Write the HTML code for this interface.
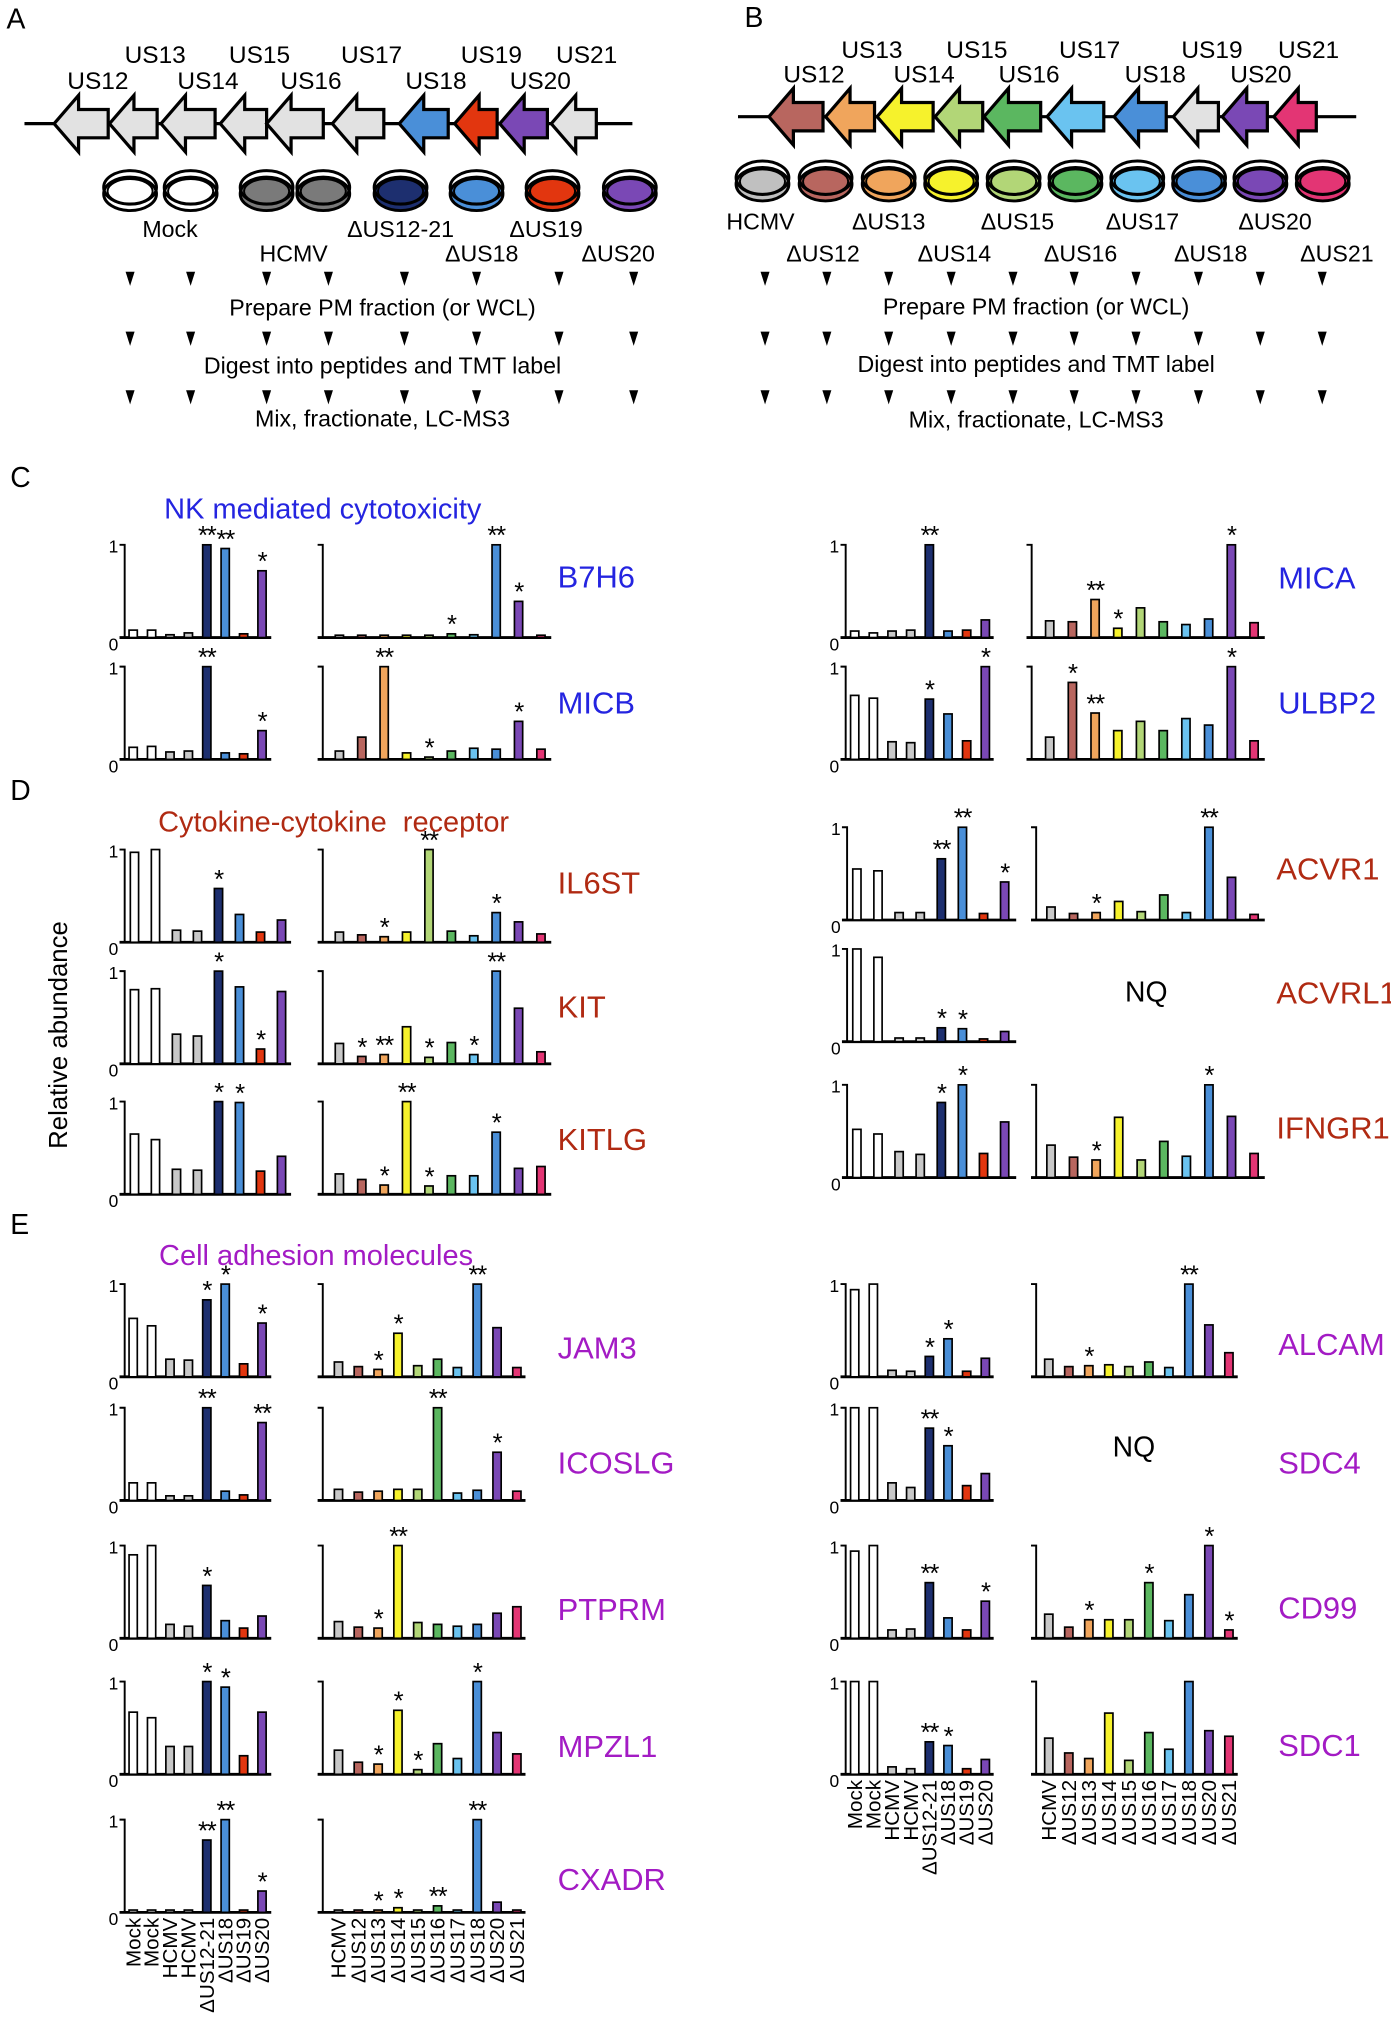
<!DOCTYPE html>
<html><head><meta charset="utf-8"><style>
html,body{margin:0;padding:0;background:#fff;}
svg{display:block;font-family:"Liberation Sans",Arial,sans-serif;}
</style></head><body>
<svg id="s" width="1391" height="2019" viewBox="0 0 1080 1567.6" xmlns="http://www.w3.org/2000/svg">
<rect width="1080" height="1567.6" fill="#fff"/>
<g id="g"></g>
<g font-size="22" fill="#000">
<text x="5" y="22">A</text><text x="578" y="21">B</text>
<text x="8" y="378">C</text><text x="8" y="621">D</text><text x="8" y="958">E</text>
</g>
<g font-size="19" text-anchor="middle">
<text x="76" y="69">US12</text><text x="120.5" y="49">US13</text><text x="161.5" y="69">US14</text><text x="201.5" y="49">US15</text><text x="241.5" y="69">US16</text><text x="288.5" y="49">US17</text><text x="338.5" y="69">US18</text><text x="381.5" y="49">US19</text><text x="419.5" y="69">US20</text><text x="455.5" y="49">US21</text>
<text x="632" y="64">US12</text><text x="677" y="45">US13</text><text x="717.5" y="64">US14</text><text x="758.5" y="45">US15</text><text x="799" y="64">US16</text><text x="846" y="45">US17</text><text x="897" y="64">US18</text><text x="941" y="45">US19</text><text x="979" y="64">US20</text><text x="1016" y="45">US21</text>
</g>
<g font-size="18" text-anchor="middle">
<text x="132" y="184">Mock</text><text x="311" y="184">ΔUS12-21</text><text x="424" y="184">ΔUS19</text>
<text x="228" y="203">HCMV</text><text x="374" y="203">ΔUS18</text><text x="480" y="203">ΔUS20</text>
<text x="590.5" y="178">HCMV</text><text x="690" y="178">ΔUS13</text><text x="790" y="178">ΔUS15</text><text x="887" y="178">ΔUS17</text><text x="990" y="178">ΔUS20</text>
<text x="639" y="203">ΔUS12</text><text x="741" y="203">ΔUS14</text><text x="839" y="203">ΔUS16</text><text x="940" y="203">ΔUS18</text><text x="1038" y="203">ΔUS21</text>
<text x="297" y="245">Prepare PM fraction (or WCL)</text>
<text x="297" y="290">Digest into peptides and TMT label</text>
<text x="297" y="331">Mix, fractionate, LC-MS3</text>
<text x="804.5" y="244">Prepare PM fraction (or WCL)</text>
<text x="804.5" y="289">Digest into peptides and TMT label</text>
<text x="804.5" y="332">Mix, fractionate, LC-MS3</text>
</g>
<g font-size="22.5" text-anchor="middle">
<text x="250.6" y="402.5" fill="#2424e0">NK mediated cytotoxicity</text>
<text x="259" y="645.7" fill="#b02a12" xml:space="preserve">Cytokine-cytokine  receptor</text>
<text x="245.4" y="982" fill="#a31bc4">Cell adhesion molecules</text>
</g>
<g font-size="24" fill="#2424e0">
<text x="433" y="456">B7H6</text><text x="433" y="553.8">MICB</text>
<text x="992.5" y="457">MICA</text><text x="992.5" y="554">ULBP2</text>
</g>
<g font-size="24" fill="#b02a12">
<text x="433" y="693.6">IL6ST</text><text x="433" y="789.9">KIT</text><text x="433" y="893">KITLG</text>
<text x="991" y="683">ACVR1</text><text x="991" y="779">ACVRL1</text><text x="991" y="883.8">IFNGR1</text>
</g>
<g font-size="24" fill="#a31bc4">
<text x="433" y="1054.6">JAM3</text><text x="433" y="1144">ICOSLG</text><text x="433" y="1257.8">PTPRM</text><text x="433" y="1364">MPZL1</text><text x="433" y="1467.4">CXADR</text>
<text x="992.5" y="1052">ALCAM</text><text x="992.5" y="1144">SDC4</text><text x="992.5" y="1256.5">CD99</text><text x="992.5" y="1363.4">SDC1</text>
</g>
<g font-size="22" text-anchor="middle">
<text x="890" y="777.7">NQ</text><text x="880.4" y="1131">NQ</text>
</g>
<text transform="translate(52,803.6) rotate(-90)" font-size="20" text-anchor="middle">Relative abundance</text>
<g font-size="16" text-anchor="end">
<text transform="translate(108.9,1489) rotate(-90)">Mock</text>
<text transform="translate(123.2,1489) rotate(-90)">Mock</text>
<text transform="translate(137.5,1489) rotate(-90)">HCMV</text>
<text transform="translate(151.8,1489) rotate(-90)">HCMV</text>
<text transform="translate(166.1,1489) rotate(-90)">ΔUS12-21</text>
<text transform="translate(180.4,1489) rotate(-90)">ΔUS18</text>
<text transform="translate(194.6,1489) rotate(-90)">ΔUS19</text>
<text transform="translate(208.9,1489) rotate(-90)">ΔUS20</text>
<text transform="translate(268.3,1489) rotate(-90)">HCMV</text>
<text transform="translate(283.7,1489) rotate(-90)">ΔUS12</text>
<text transform="translate(299.1,1489) rotate(-90)">ΔUS13</text>
<text transform="translate(314.5,1489) rotate(-90)">ΔUS14</text>
<text transform="translate(329.9,1489) rotate(-90)">ΔUS15</text>
<text transform="translate(345.3,1489) rotate(-90)">ΔUS16</text>
<text transform="translate(360.6,1489) rotate(-90)">ΔUS17</text>
<text transform="translate(376,1489) rotate(-90)">ΔUS18</text>
<text transform="translate(391.4,1489) rotate(-90)">ΔUS20</text>
<text transform="translate(406.8,1489) rotate(-90)">ΔUS21</text>
<text transform="translate(669.1,1382) rotate(-90)">Mock</text>
<text transform="translate(683.6,1382) rotate(-90)">Mock</text>
<text transform="translate(698.1,1382) rotate(-90)">HCMV</text>
<text transform="translate(712.6,1382) rotate(-90)">HCMV</text>
<text transform="translate(727.1,1382) rotate(-90)">ΔUS12-21</text>
<text transform="translate(741.6,1382) rotate(-90)">ΔUS18</text>
<text transform="translate(756,1382) rotate(-90)">ΔUS19</text>
<text transform="translate(770.5,1382) rotate(-90)">ΔUS20</text>
<text transform="translate(819.8,1382) rotate(-90)">HCMV</text>
<text transform="translate(835.3,1382) rotate(-90)">ΔUS12</text>
<text transform="translate(850.9,1382) rotate(-90)">ΔUS13</text>
<text transform="translate(866.4,1382) rotate(-90)">ΔUS14</text>
<text transform="translate(882,1382) rotate(-90)">ΔUS15</text>
<text transform="translate(897.5,1382) rotate(-90)">ΔUS16</text>
<text transform="translate(913,1382) rotate(-90)">ΔUS17</text>
<text transform="translate(928.6,1382) rotate(-90)">ΔUS18</text>
<text transform="translate(944.1,1382) rotate(-90)">ΔUS20</text>
<text transform="translate(959.7,1382) rotate(-90)">ΔUS21</text>
</g>
</svg>
<script>
const NS='http://www.w3.org/2000/svg';const G=document.getElementById('g');
function el(t,a,txt){const e=document.createElementNS(NS,t);for(const k in a)e.setAttribute(k,a[k]);if(txt!=null)e.textContent=txt;G.appendChild(e);return e;}
function arrows(ly,x1,x2,list,cols,hh){
 el('line',{x1:x1,y1:ly,x2:x2,y2:ly,stroke:'#000','stroke-width':2.5});
 list.forEach((p,i)=>{const t=p[0],r=p[1],h=Math.min(t+19,r-8),c=ly;
  el('path',{d:`M${t},${c}L${h},${c-hh}V${c-11}H${r}V${c+11}H${h}V${c+hh}Z`,fill:cols[i],stroke:'#000','stroke-width':2.5,'stroke-linejoin':'miter'});});
}
const ga='#e2e2e2';
arrows(96,19,491,[[42,84],[85,122],[125,167],[171,207],[207,251],[258,298],[310,348],[353,386],[388,425],[428,463]],
 [ga,ga,ga,ga,ga,ga,'#4a8fd8','#e2360f','#7a48b5',ga],22);
arrows(90.6,573,1053,[[597,639],[641,679],[681,724.5],[726,763],[764,808],[813,857],[865,905.5],[911,946],[949,984],[989,1022]],
 ['#b8665f','#f0a55c','#f6f22c','#b2d677','#5bb760','#6ac3f0','#4a8fd8','#e2e2e2','#7a48b5','#e33574'],22);
function dish(cx,cy,col){
 el('ellipse',{cx:cx,cy:cy+3,rx:20.5,ry:13,fill:col,stroke:'#000','stroke-width':2.3});
 el('ellipse',{cx:cx,cy:cy-2,rx:20.5,ry:13,fill:'none',stroke:'#000','stroke-width':2.3});
 el('ellipse',{cx:cx,cy:cy+1,rx:17.5,ry:9.5,fill:col,stroke:'#000','stroke-width':1.5});
}
[[101,'#fff'],[148,'#fff'],[207,'#7a7a7a'],[251,'#7a7a7a'],[311,'#1d2f6f'],[370,'#4a8fd8'],[429,'#e2360f'],[489,'#7a48b5']].forEach(d=>dish(d[0],147.5,d[1]));
[[592,'#c0c0c0'],[641,'#b8665f'],[690,'#f0a55c'],[738.5,'#f6f22c'],[787,'#b2d677'],[835,'#5bb760'],[883,'#6ac3f0'],[931,'#4a8fd8'],[978.6,'#7a48b5'],[1027,'#e33574']].forEach(d=>dish(d[0],140,d[1]));
function tris(xs){[211,257.5,303].forEach(y=>xs.forEach(x=>el('path',{d:`M${x-3.5},${y}H${x+3.5}L${x},${y+11}Z`,fill:'#000'})));}
tris([101,148,207,255,314,370,434,492]);
tris([594,642,690,738.5,786.5,834,882,930.5,978.5,1026.6]);
const LC=['#fff','#fff','#c8c8c8','#c8c8c8','#1d2f6f','#4a8fd8','#e2360f','#7a48b5'];
const RC=['#c8c8c8','#b8665f','#f0a55c','#f6f22c','#b2d677','#5bb760','#6ac3f0','#4a8fd8','#7a48b5','#e33574'];
function chart(T,base,vals,stars,ticks){
 const [ax,x0,dx,end]=T,top=base-72,cols=vals.length==8?LC:RC;
 el('path',{d:`M${ax-4},${top}H${ax}V${base}`,fill:'none',stroke:'#000','stroke-width':1.5});
 el('line',{x1:ax-4,y1:base,x2:end,y2:base,stroke:'#000','stroke-width':2.2});
 if(ticks){el('text',{x:ax-5,y:top+6,'text-anchor':'end','font-size':13.5},'1');el('text',{x:ax-5,y:base+10,'text-anchor':'end','font-size':13.5},'0');}
 vals.forEach((v,i)=>{const cx=x0+dx*i,h=Math.max(v*72,1.8);
  el('rect',{x:cx-3.2,y:base-h,width:6.4,height:h,fill:cols[i],stroke:'#000','stroke-width':1.3});
  if(stars[i])el('text',{x:cx,y:base-h-0.5,'text-anchor':'middle','font-size':20,'letter-spacing':'-1'},stars[i]);});
}
const Lc=[96.8,103.4,14.29,210.6],C2=[250.6,263.5,17.39,428],R1c=[656.6,663.6,14.49,771.5],R2c=[801,815,17.63,982];
const Ld=[96.8,104.4,16.31,226],R1d=[657.7,665.3,16.39,789],R2d=[804.5,816,17.52,982];
const E2=[250.6,262.8,15.39,408],R2e=[804.5,814.3,15.54,961];
chart(Lc,495,[.08,.08,.03,.05,1,.96,.04,.72],{4:'**',5:'**',7:'*'},1);
chart(C2,495,[.02,.02,.02,.02,.02,.04,.03,1,.39,.02],{5:'*',7:'**',8:'*'});
chart(Lc,589.6,[.13,.14,.08,.09,1,.07,.06,.31],{4:'**',7:'*'},1);
chart(C2,589.6,[.09,.24,1,.07,.02,.09,.12,.11,.41,.11],{2:'**',4:'*',8:'*'});
chart(R1c,495,[.07,.05,.07,.08,1,.07,.08,.19],{4:'**'},1);
chart(R2c,495,[.18,.17,.41,.1,.32,.17,.14,.2,1,.16],{2:'**',3:'*',8:'*'});
chart(R1c,589.6,[.69,.66,.19,.18,.65,.49,.2,1],{4:'*',7:'*'},1);
chart(R2c,589.6,[.24,.83,.5,.31,.41,.31,.44,.37,1,.2],{1:'*',2:'**',8:'*'});
chart(Ld,731.6,[.97,1,.13,.12,.58,.3,.11,.24],{4:'*'},1);
chart(C2,731.6,[.11,.08,.06,.11,1,.12,.07,.32,.22,.09],{2:'*',4:'**',7:'*'});
chart(Ld,826,[.8,.81,.32,.3,1,.83,.16,.78],{4:'*',6:'*'},1);
chart(C2,826,[.22,.08,.1,.4,.07,.23,.1,1,.6,.13],{1:'*',2:'**',4:'*',6:'*',7:'**'});
chart(Ld,927.3,[.65,.59,.27,.26,1,.99,.25,.41],{4:'*',5:'*'},1);
chart(C2,927.3,[.22,.16,.1,1,.09,.2,.2,.67,.28,.3],{2:'*',3:'**',4:'*',7:'*'});
chart(R1d,714.3,[.55,.53,.08,.08,.66,1,.07,.41],{4:'**',5:'**',7:'*'},1);
chart(R2d,714.3,[.14,.07,.08,.2,.09,.27,.08,1,.46,.06],{2:'*',7:'**'});
chart(R1d,808.8,[1,.91,.04,.04,.15,.14,.03,.11],{4:'*',5:'*'},1);
chart(R1d,914.3,[.52,.47,.28,.25,.81,1,.26,.6],{4:'*',5:'*'},1);
chart(R2d,914.3,[.35,.22,.19,.65,.19,.39,.23,1,.66,.26],{2:'*',7:'*'});
chart(Lc,1069,[.63,.55,.19,.18,.83,1,.14,.58],{4:'*',5:'*',7:'*'},1);
chart(E2,1069,[.16,.11,.08,.47,.12,.19,.1,1,.53,.1],{2:'*',3:'*',7:'**'});
chart(Lc,1165,[.19,.19,.05,.05,1,.1,.06,.84],{4:'**',7:'**'},1);
chart(E2,1165,[.12,.09,.1,.12,.12,1,.08,.11,.52,.1],{5:'**',8:'*'});
chart(Lc,1272,[.9,1,.15,.13,.57,.19,.11,.24],{4:'*'},1);
chart(E2,1272,[.18,.12,.11,1,.17,.15,.13,.15,.27,.34],{2:'*',3:'**'});
chart(Lc,1377.6,[.67,.61,.3,.3,1,.94,.2,.67],{4:'*',5:'*'},1);
chart(E2,1377.6,[.26,.13,.11,.69,.05,.33,.17,1,.45,.22],{2:'*',3:'*',4:'*',7:'*'});
chart(Lc,1484.8,[.01,.01,.01,.01,.78,1,.02,.23],{4:'**',5:'**',7:'*'},1);
chart(E2,1484.8,[.01,.01,.01,.05,.01,.07,.02,1,.11,.01],{2:'*',3:'*',5:'**',7:'**'});
chart(R1c,1069,[.94,1,.07,.06,.22,.41,.06,.2],{4:'*',5:'*'},1);
chart(R2e,1069,[.19,.11,.12,.13,.11,.16,.1,1,.56,.26],{2:'*',7:'**'});
chart(R1c,1165,[1,1,.19,.14,.78,.59,.16,.29],{4:'**',5:'*'},1);
chart(R1c,1272,[.94,1,.09,.1,.6,.22,.09,.4],{4:'**',7:'*'},1);
chart(R2e,1272,[.26,.12,.2,.2,.2,.6,.19,.47,1,.09],{2:'*',5:'*',8:'*',9:'*'});
chart(R1c,1377.6,[1,1,.08,.06,.35,.31,.06,.16],{4:'**',5:'*'},1);
chart(R2e,1377.6,[.39,.23,.17,.66,.15,.45,.27,1,.47,.41],{});
</script>
</body></html>
